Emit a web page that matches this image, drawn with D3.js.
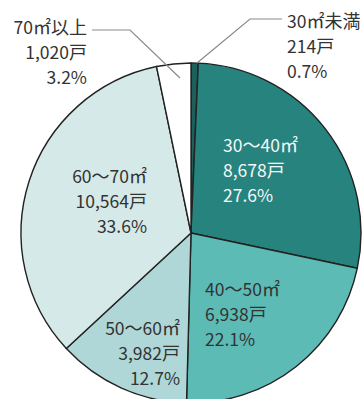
<!DOCTYPE html>
<html>
<head>
<meta charset="utf-8">
<script src="https://cdn.jsdelivr.net/npm/d3@7"></script>
<style>
  html, body { margin: 0; padding: 0; background: #fff; }
  svg { display: block; }
  text { font-family: "Noto Sans CJK JP", "Noto Sans", sans-serif; font-size: 17.5px; }
</style>
</head>
<body>
<svg id="chart" width="364" height="399"></svg>
<script>
const categories = ["30㎡未満", "30～40㎡", "40～50㎡", "50～60㎡", "60～70㎡", "70㎡以上"];
const units = [214, 8678, 6938, 3982, 10564, 1020];
const shares = ["0.7%", "27.6%", "22.1%", "12.7%", "33.6%", "3.2%"];
const colors = ["#1d5f5a", "#26837e", "#5dbbb6", "#afd7d7", "#d5e9e8", "#ffffff"];
const textColors = ["#333", "#f4f8f8", "#333", "#333", "#333", "#333"];

const W = 364, H = 399;
const cx = 191, cy = 233, R = 170;
const lineH = 25;

// label anchors relative to pie centre: [dx, dy of first baseline, text-anchor]
const labelLayout = [
  [96, -205, "start"],   // leader label, top right
  [32, -81, "start"],
  [14, 63, "start"],
  [-11, 102, "end"],
  [-44, -50, "end"],
  [-104, -199, "end"]    // leader label, top left
];
// leader lines for the two small slices
const leaders = [
  [[6, -170], [59, -214], [91, -214]],
  [[-11, -155], [-61, -203], [-99, -203]]
];

const data = categories.map((c, i) => ({ cat: c, units: units[i], share: shares[i], i }));

const svg = d3.select("#chart");
const g = svg.append("g").attr("transform", `translate(${cx},${cy})`);

const pie = d3.pie().sort(null).value(d => d.units);
const arc = d3.arc().innerRadius(0).outerRadius(R);

g.selectAll("path.slice")
  .data(pie(data))
  .join("path")
  .attr("class", "slice")
  .attr("d", arc)
  .attr("fill", d => colors[d.data.i])
  .attr("stroke", "#222")
  .attr("stroke-width", 1.4)
  .attr("stroke-linejoin", "round");

g.selectAll("polyline")
  .data(leaders)
  .join("polyline")
  .attr("points", d => d.map(p => p.join(",")).join(" "))
  .attr("fill", "none")
  .attr("stroke", "#8a8a8a")
  .attr("stroke-width", 1.2);

const fmt = d3.format(",");
// split a line into runs so the CJK glyphs can be set a little larger
const runs = s => s.match(/[0-9.,%]+|[^0-9.,%]+/g);

const labels = g.selectAll("g.label")
  .data(data)
  .join("g")
  .attr("class", "label")
  .attr("transform", d => `translate(${labelLayout[d.i][0]},${labelLayout[d.i][1]})`);

labels.each(function(d) {
  const lines = [d.cat, fmt(d.units) + "戸", d.share];
  d3.select(this).selectAll("text")
    .data(lines)
    .join("text")
    .attr("y", (t, j) => j * lineH)
    .attr("text-anchor", labelLayout[d.i][2])
    .attr("fill", textColors[d.i])
    .selectAll("tspan")
    .data(t => runs(t))
    .join("tspan")
    .style("font-size", r => /[0-9.,%]/.test(r[0]) ? "17.5px" : "18px")
    .text(r => r);
});
</script>
</body>
</html>
